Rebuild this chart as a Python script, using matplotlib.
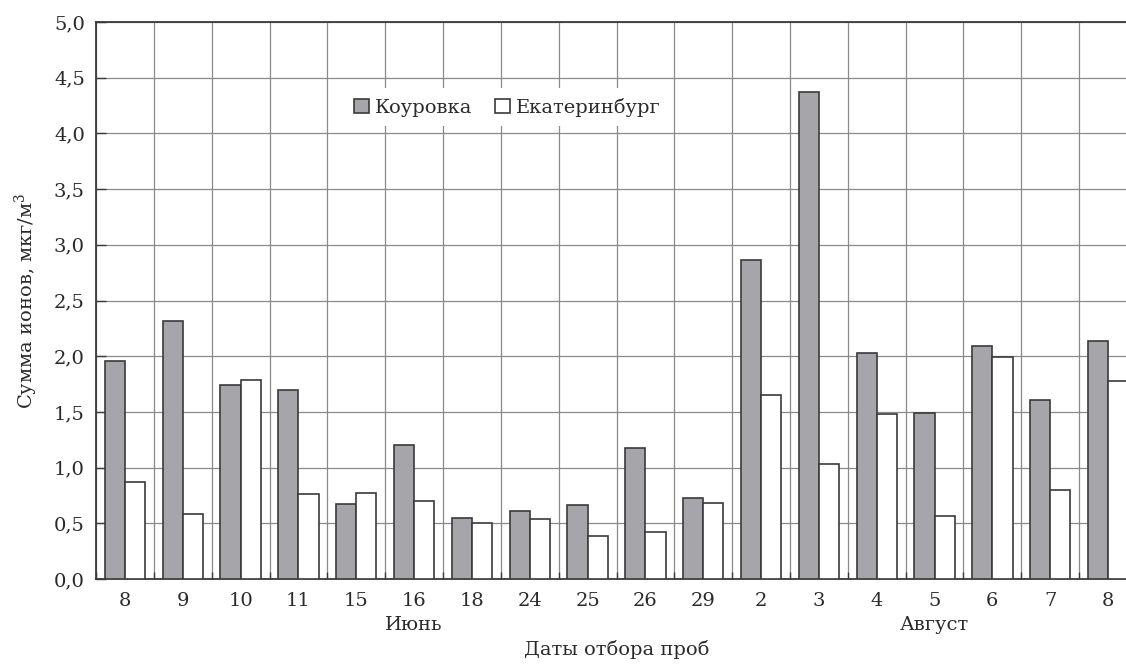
import numpy as np
import matplotlib
matplotlib.use("Agg")
import matplotlib.pyplot as plt
from matplotlib.ticker import FuncFormatter, MultipleLocator

plt.rcParams["font.family"] = ["DejaVu Serif"]
plt.rcParams["mathtext.fontset"] = "dejavuserif"

# Sampling dates (June and August)
dates = ["8", "9", "10", "11", "15", "16", "18", "24", "25", "26", "29",
         "2", "3", "4", "5", "6", "7", "8"]
months = ["Июнь", "Август"]
month_pos = [5, 14]

# Sum of ions, mkg/m3
kourovka = [1.96, 2.32, 1.74, 1.70, 0.67, 1.20, 0.55, 0.61, 0.66, 1.18, 0.73,
            2.86, 4.37, 2.03, 1.49, 2.09, 1.61, 2.14]
ekaterinburg = [0.875, 0.58, 1.79, 0.76, 0.77, 0.70, 0.50, 0.54, 0.385, 0.42,
                0.68, 1.65, 1.035, 1.48, 0.57, 1.99, 0.80, 1.78]

text_col = "#2a2a2a"
edge_col = "#3a3a3a"
fs = 14

fig = plt.figure(figsize=(11.26, 6.64), dpi=100)
# axes runs a little past the right edge, as in the original scan
ax = fig.add_axes([96 / 1126, 1 - 579 / 664, 1041 / 1126, 557 / 664])

x = np.arange(len(dates))
w = 0.35
ax.bar(x - w / 2, kourovka, w, color="#a6a6aa", edgecolor=edge_col,
       linewidth=1.2, label="Коуровка", zorder=3)
ax.bar(x + w / 2, ekaterinburg, w, color="white", edgecolor=edge_col,
       linewidth=1.2, label="Екатеринбург", zorder=3)

ax.set_xlim(-0.5, len(dates) - 0.5)
ax.set_ylim(0, 5)

# y axis
ax.yaxis.set_major_locator(MultipleLocator(0.5))
ax.yaxis.set_major_formatter(FuncFormatter(lambda v, p: f"{v:.1f}".replace(".", ",")))
ax.tick_params(axis="y", direction="in", length=7, width=1.0, colors=edge_col,
               labelsize=fs, labelcolor=text_col, pad=8)

# x axis: labels at centres, ticks/grid at boundaries
ax.set_xticks(x)
ax.set_xticklabels(dates)
ax.set_xticks(np.arange(len(dates) + 1) - 0.5, minor=True)
ax.tick_params(axis="x", which="major", length=0, labelsize=fs,
               labelcolor=text_col, pad=9)
ax.tick_params(axis="x", which="minor", direction="in", length=5, width=1.0,
               colors=edge_col)

ax.grid(True, which="minor", axis="x", color="#8a8a8a", linewidth=0.9)
ax.grid(True, which="major", axis="y", color="#8a8a8a", linewidth=0.9)
ax.set_axisbelow(True)

for s in ax.spines.values():
    s.set_color(edge_col)
    s.set_linewidth(1.3)

for m, p in zip(months, month_pos):
    ax.text(p, -0.083, m, transform=ax.get_xaxis_transform(), ha="center",
            va="center", fontsize=fs, color=text_col)

ax.set_xlabel("Даты отбора проб", fontsize=fs, color=text_col, labelpad=22)
ax.set_ylabel("Сумма ионов, мкг/м$^3$", fontsize=fs, color=text_col, labelpad=10)

leg = ax.legend(loc="center", bbox_to_anchor=(0.395, 0.847), ncol=2,
                fontsize=fs, frameon=True, framealpha=1, edgecolor="none",
                handlelength=0.75, handleheight=0.75, handletextpad=0.3,
                columnspacing=1.2, borderpad=0.5, fancybox=False)
for t in leg.get_texts():
    t.set_color(text_col)

fig.savefig("out.png", dpi=100)
